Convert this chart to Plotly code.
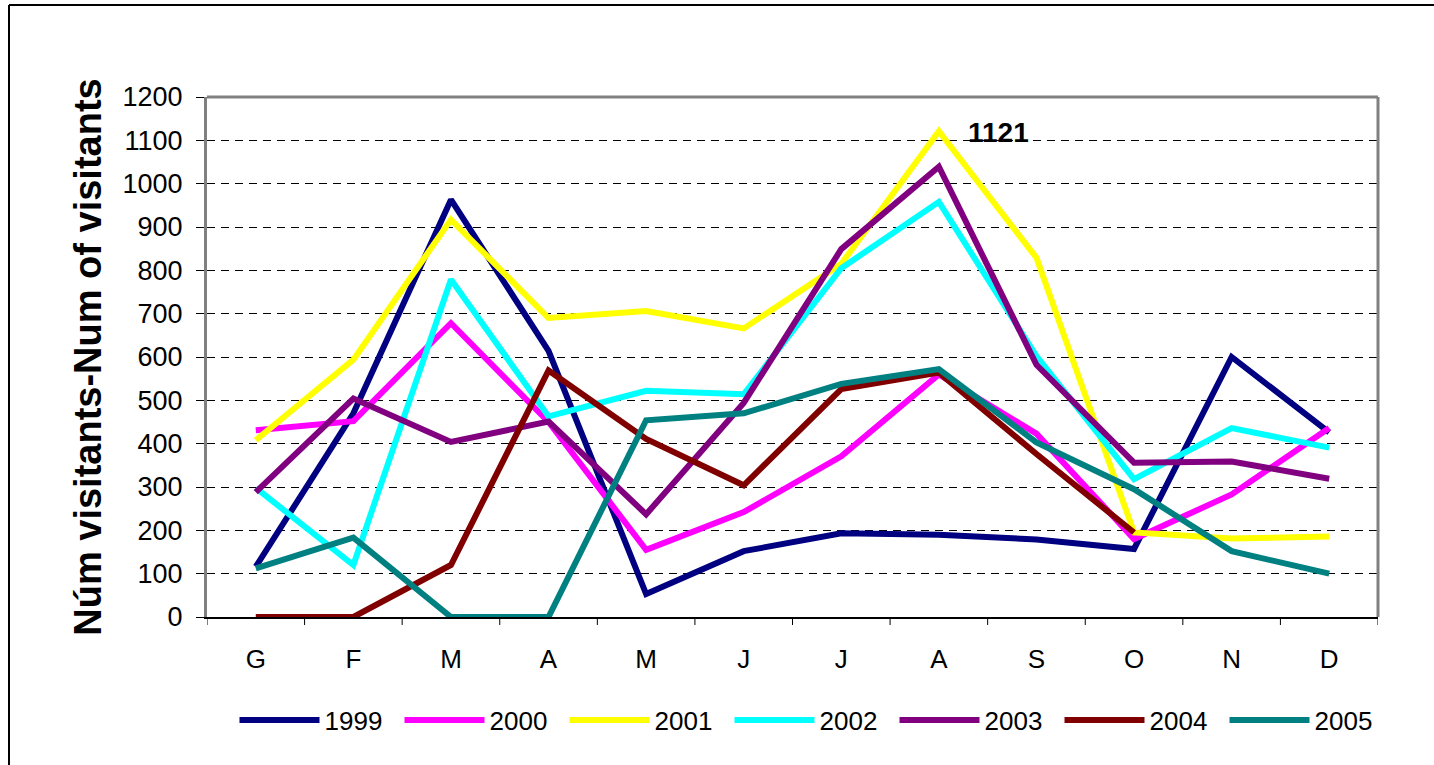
import plotly.graph_objects as go

months = ["G", "F", "M", "A", "M", "J", "J", "A", "S", "O", "N", "D"]
years = ["1999", "2000", "2001", "2002", "2003", "2004", "2005"]

v1999 = [116, 470, 963, 614, 53, 152, 193, 190, 179, 157, 600, 426]
v2000 = [431, 452, 678, 450, 155, 242, 371, 560, 423, 180, 283, 436]
v2001 = [408, 594, 917, 690, 706, 666, 815, 1121, 829, 195, 181, 186]
v2002 = [298, 120, 779, 463, 522, 514, 805, 958, 602, 318, 436, 391]
v2003 = [288, 504, 404, 451, 237, 494, 849, 1039, 582, 356, 359, 319]
v2004 = [0, 0, 120, 569, 411, 304, 526, 564, 376, 195, None, None]
v2005 = [112, 183, 0, 0, 454, 470, 538, 572, 403, 295, 152, 100]

series = [v1999, v2000, v2001, v2002, v2003, v2004, v2005]
colors = ["#000080", "#FF00FF", "#FFFF00", "#00FFFF", "#800080", "#800000", "#008080"]

peak_label = "1121"

W, H = 1434, 765
L, R, T, B = 207, 56, 97, 148
PW, PH = W - L - R, H - T - B

fig = go.Figure()
idx = list(range(len(months)))
for name, vals, col in zip(years, series, colors):
    fig.add_trace(go.Scatter(
        x=idx, y=vals, mode="lines", name=name,
        line=dict(color=col, width=6), connectgaps=False,
    ))

font_family = "Liberation Sans, Arial, sans-serif"

fig.update_layout(
    width=W, height=H,
    margin=dict(l=L, r=R, t=T, b=B, pad=0, autoexpand=False),
    paper_bgcolor="white", plot_bgcolor="white",
    font=dict(family=font_family, size=24, color="black"),
    showlegend=True,
    legend=dict(
        orientation="h", x=(812 - L) / PW, xanchor="center",
        y=-(720 - 617) / PH, yanchor="middle",
        font=dict(size=26, family=font_family),
        entrywidth=70, entrywidthmode="pixels",
        itemwidth=80, tracegroupgap=0,
    ),
)

fig.update_xaxes(
    range=[-0.5, len(months) - 0.5], automargin=False,
    tickmode="array", tickvals=idx, ticktext=months,
    showgrid=False, zeroline=False,
    showline=True, linecolor="black", linewidth=2,
    ticks="", ticklabelstandoff=18,
    tickfont=dict(size=26, family=font_family, color="black"),
)
fig.update_yaxes(
    range=[0, 1200], dtick=100, tick0=0, automargin=False,
    showgrid=True, gridcolor="black", griddash="8px,6px", gridwidth=1,
    zeroline=False,
    showline=True, linecolor="#808080", linewidth=3,
    ticks="outside", ticklen=8, tickcolor="black", tickwidth=1,
    ticklabelstandoff=8,
    tickfont=dict(size=27, family=font_family, color="black"),
    title=dict(text="<b>Núm visitants-Num of visitants</b>",
               font=dict(size=38, family=font_family, color="black"), standoff=10),
)

shapes = []
for i in range(len(months) + 1):
    shapes.append(dict(type="line", xref="x", yref="paper",
                       x0=i - 0.5, x1=i - 0.5, y0=0, y1=-8 / PH,
                       line=dict(color="black", width=1)))
shapes.append(dict(type="line", xref="paper", yref="paper", x0=0, x1=1, y0=1, y1=1,
                   line=dict(color="#808080", width=3)))
shapes.append(dict(type="line", xref="paper", yref="paper", x0=1, x1=1, y0=0, y1=1,
                   line=dict(color="#808080", width=3)))
# outer chart frame (left and top edges visible)
fx = (9 - L) / PW
fy = (T + PH - 5) / PH
shapes.append(dict(type="line", xref="paper", yref="paper", x0=fx, x1=fx,
                   y0=fy, y1=-(H - T - PH) / PH,
                   line=dict(color="black", width=2)))
shapes.append(dict(type="line", xref="paper", yref="paper", x0=fx, x1=(W - L) / PW,
                   y0=fy, y1=fy, line=dict(color="black", width=2)))
fig.update_layout(shapes=shapes)

peak_i = v2001.index(max(v2001))
fig.add_annotation(
    x=peak_i, y=max(v2001), text="<b>" + peak_label + "</b>",
    showarrow=False, xanchor="center", yanchor="middle",
    xshift=60, yshift=-1,
    font=dict(size=28, family=font_family, color="black"),
)

fig.write_html(
    "out.html",
    config={"displayModeBar": False},
    post_script="document.body.style.margin='0';document.body.style.overflow='hidden';"
                "window.dispatchEvent(new Event('resize'));",
)
